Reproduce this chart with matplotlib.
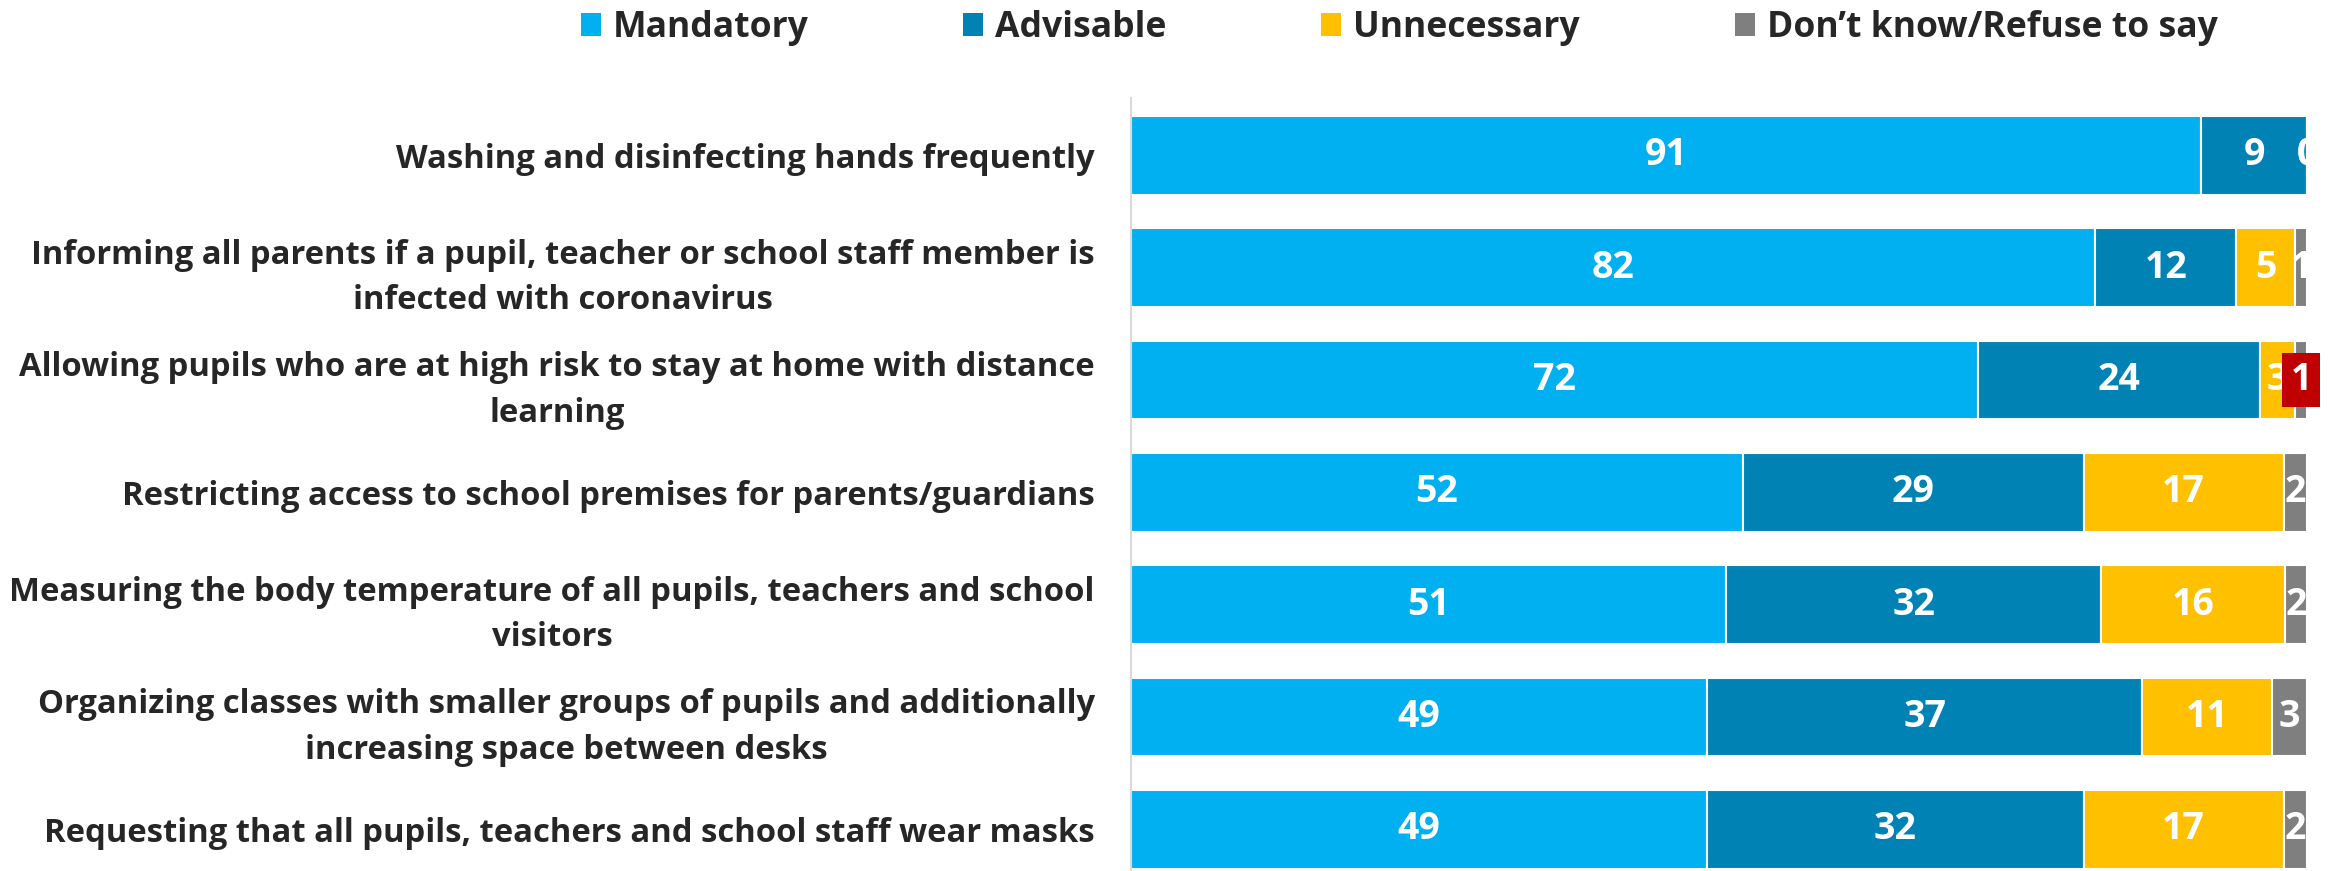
import matplotlib
matplotlib.use('Agg')
import matplotlib.pyplot as plt
from matplotlib.patches import Patch

plt.rcParams['font.family'] = ['Open Sans', 'DejaVu Sans']

categories = [
    'Washing and disinfecting hands frequently',
    'Informing all parents if a pupil, teacher or school staff member is\ninfected with coronavirus',
    'Allowing pupils who are at high risk to stay at home with distance\nlearning',
    'Restricting access to school premises for parents/guardians',
    'Measuring the body temperature of all pupils, teachers and school\nvisitors',
    'Organizing classes with smaller groups of pupils and additionally\nincreasing space between desks',
    'Requesting that all pupils, teachers and school staff wear masks',
]
series = ['Mandatory', 'Advisable', 'Unnecessary', 'Don’t know/Refuse to say']
mandatory = [91, 82, 72, 52, 50.6, 49, 49]
advisable = [9, 12, 24, 29, 31.9, 37, 32]
unnecessary = [0, 5, 3, 17, 15.6, 11, 17]
dont_know = [0, 1, 1, 2, 1.9, 3, 2]
colors = ['#00B0F0', '#0083B4', '#FFC000', '#7F7F7F']

# the one label that sits in a red box (row 3, don't know)
highlight = (2, 3)

fig = plt.figure(figsize=(23.28, 8.71), dpi=100)
ax = fig.add_axes([0.4858, 0.0, 0.5052, 0.8875])

data = [mandatory, advisable, unnecessary, dont_know]
y = list(range(len(categories)))
left = [0] * len(categories)
for s, vals in enumerate(data):
    ax.barh(y, vals, left=left, height=0.70, color=colors[s],
            edgecolor='white', linewidth=1.5, label=series[s])
    for i, v in enumerate(vals):
        if v < 10 and s == 0:
            continue
        cx = left[i] + v / 2
        if (i, s) == highlight:
            ax.text(cx, i, f'{v:.0f}', ha='center', va='center', color='white',
                    fontsize=27, fontweight='bold', zorder=10, clip_on=False,
                    bbox=dict(boxstyle='square,pad=0.22', facecolor='#C00000',
                              edgecolor='none'))
        else:
            ax.text(cx, i, f'{v:.0f}', ha='center', va='center', color='white',
                    fontsize=27, fontweight='bold', clip_on=True)
    left = [l + v for l, v in zip(left, vals)]

ax.set_xlim(0, 100)
ax.set_ylim(6.37, -0.51)
ax.set_yticks(y)
ax.set_yticklabels(categories, fontsize=23.6, fontweight='bold', color='#262626',
                   multialignment='center', linespacing=1.5)
ax.tick_params(axis='y', length=0, pad=26)
ax.set_xticks([])
for side in ['top', 'right', 'bottom']:
    ax.spines[side].set_visible(False)
ax.spines['left'].set_color('#D9D9D9')
ax.spines['left'].set_linewidth(1.5)

handles = [Patch(facecolor=c, edgecolor='none') for c in colors]
fig.legend(handles, series, loc='center', bbox_to_anchor=(0.601, 0.968), ncol=4,
           frameon=False, prop={'size': 25.6, 'weight': 'bold'},
           labelcolor='#262626', handlelength=0.56, handleheight=0.6,
           handletextpad=0.34, columnspacing=4.35)

fig.savefig('out.png', dpi=100, facecolor='white')
